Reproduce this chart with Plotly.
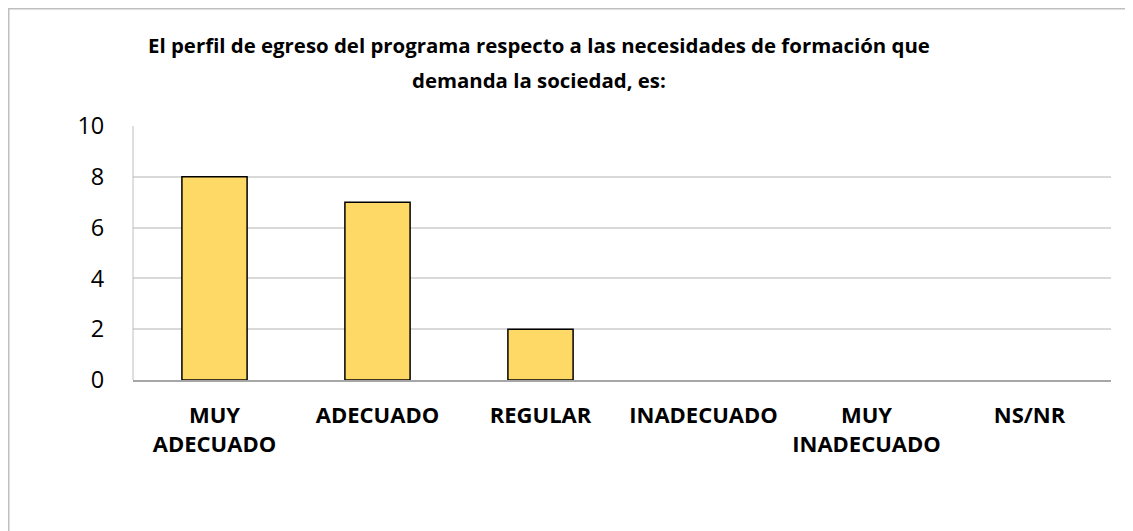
import plotly.graph_objects as go

categories = ["MUY<br>ADECUADO", "ADECUADO", "REGULAR", "INADECUADO", "MUY<br>INADECUADO", "NS/NR"]
values = [8, 7, 2, 0, 0, 0]
y_ticks = [0, 2, 4, 6, 8, 10]
title_line1 = "El perfil de egreso del programa respecto a las necesidades de formación que"
title_line2 = "demanda la sociedad, es:"

# page body has an 8px margin, so figure coords = screen coords - 8
OFF = 8
W, H = 1133 - OFF, 531 - OFF
L, R, T, B = 133 - OFF, 1111 - OFF, 126 - OFF, 380 - OFF
FONT = "Open Sans"

fig = go.Figure(go.Bar(
    x=categories, y=values,
    marker=dict(color="#FFD966",
                line=dict(color="#000000", width=[1.5 if v > 0 else 0 for v in values])),
    width=0.4,
))

def px(xs):
    return (xs - OFF - L) / (R - L)

def py(ys):
    return (B - (ys - OFF)) / (B - T)

def title_ann(text, ys):
    return dict(
        text="<b>" + text + "</b>",
        x=px(539), y=py(ys), xref="paper", yref="paper",
        xanchor="center", yanchor="middle", showarrow=False,
        font=dict(family=FONT, size=20.4, color="#000000"),
    )

fig.update_layout(
    width=W, height=H,
    margin=dict(l=L, r=W - R, t=T, b=H - B, pad=0),
    paper_bgcolor="white", plot_bgcolor="white",
    showlegend=False,
    font=dict(family=FONT, color="#000000"),
    annotations=[title_ann(title_line1, 45), title_ann(title_line2, 80)],
    shapes=[
        dict(type="rect", xref="paper", yref="paper",
             x0=px(8.75), x1=px(1300), y0=py(8.75), y1=py(800),
             line=dict(color="#BFBFBF", width=1.5), layer="below"),
        dict(type="line", xref="paper", yref="paper",
             x0=0, x1=0, y0=0, y1=1,
             line=dict(color="#BFBFBF", width=1)),
    ],
)

fig.update_xaxes(
    tickfont=dict(family=FONT, size=22, color="#000000"),
    tickprefix="<b>", ticksuffix="</b>",
    showline=True, linecolor="#A6A6A6", linewidth=1.5,
    ticks="outside", ticklen=15, tickcolor="rgba(0,0,0,0)", showgrid=False,
)
fig.update_yaxes(
    range=[0, 10], tickvals=y_ticks,
    tickfont=dict(family=FONT, size=23.5, color="#000000"),
    showgrid=True, gridcolor="#D9D9D9", gridwidth=1.5,
    zeroline=False, showline=False, ticks="outside", ticklen=23, tickcolor="rgba(0,0,0,0)",
)

fig.write_html("out.html")
